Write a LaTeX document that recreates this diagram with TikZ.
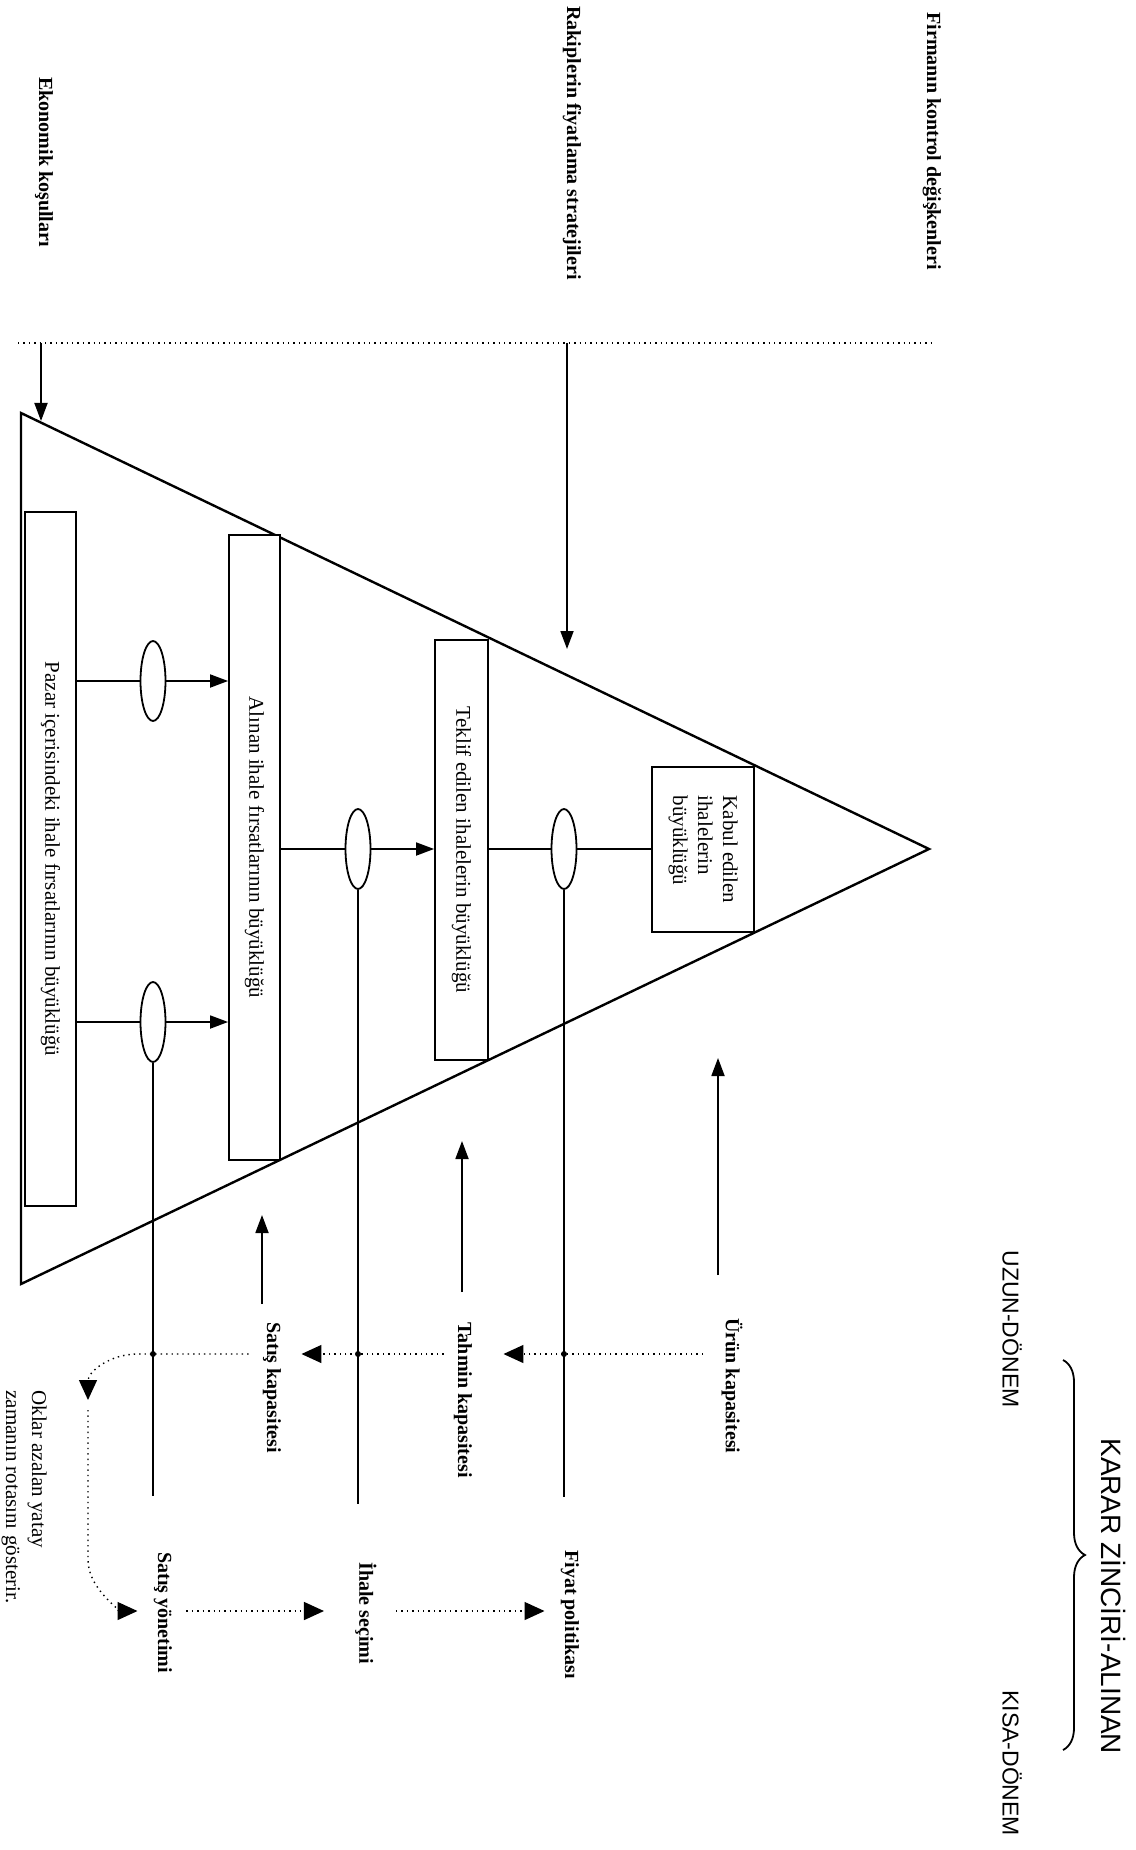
\documentclass[tikz,border=0pt]{standalone}
\usepackage{fontspec}
\usepackage{graphicx}
\setmainfont{Liberation Serif}
\newfontfamily\karsans{Liberation Sans}
\usetikzlibrary{arrows.meta,shapes.geometric,decorations.pathreplacing}
\begin{document}
\begin{tikzpicture}[x=0.5pt,y=-0.5pt,
    every node/.style={inner sep=0pt},
    kutu/.style={draw,line width=0.9pt,fill=white,font=\fontsize{10.5}{12.5}\selectfont},
    oval/.style={draw,ellipse,line width=0.9pt,fill=white,minimum width=12.5pt,minimum height=40pt},
    dikyazi/.style={rotate=-90,anchor=west,font=\bfseries\fontsize{10}{12}\selectfont},
    ok/.style={line width=0.9pt,-{Triangle[length=9pt,width=6.5pt]}},
    zaman/.style={dotted,line width=0.7pt,-{Triangle[length=10pt,width=9pt]}}]
    \useasboundingbox (0,0) rectangle (1135,1850);
    \node[dikyazi] (ekon) at (44,77) {Ekonomik koşulları};
    \node[dikyazi] (rakip) at (572,6) {Rakiplerin fiyatlama stratejileri};
    \node[dikyazi] (firma) at (932,12) {Firmanın kontrol değişkenleri};
    \coordinate (c1) at (18,343);
    \coordinate (c2) at (932,343);
    \draw[dotted,line width=0.7pt] (c1) -- (c2);
    \coordinate (tA) at (21,413);
    \coordinate (tB) at (21,1284);
    \coordinate (tC) at (929,849);
    \draw[line width=1.2pt] (tA) -- (tC) -- (tB) -- cycle;
    \coordinate (ekon-uc) at (41,421);
    \coordinate (rakip-uc) at (567,649);
    \draw[ok] (ekon-uc |- c1) -- (ekon-uc);
    \draw[ok] (rakip-uc |- c1) -- (rakip-uc);
    \node[kutu,minimum width=25.5pt,minimum height=347pt] (pazar) at (50.5,859)
        {\rotatebox{-90}{Pazar içerisindeki ihale fırsatlarının büyüklüğü}};
    \node[kutu,minimum width=25.5pt,minimum height=312.5pt] (alinan) at (254.5,847.5)
        {\rotatebox{-90}{Alınan ihale fırsatlarının büyüklüğü}};
    \node[kutu,minimum width=26.5pt,minimum height=210pt] (teklif) at (461.5,850)
        {\rotatebox{-90}{Teklif edilen ihalelerin büyüklüğü}};
    \node[kutu,minimum width=51pt,minimum height=82.5pt] (kabul) at (703,849.5)
        {\rotatebox{-90}{\begin{tabular}{@{}l@{}}Kabul edilen\\ihalelerin\\büyüklüğü\end{tabular}}};
    \node[oval] (o1) at (153,681) {};
    \node[oval] (o2) at (153,1022) {};
    \node[oval] (o3) at (358,849) {};
    \node[oval] (o4) at (564,849) {};
    \draw[line width=0.9pt] (pazar.east |- o1) -- (o1.west);
    \draw[ok] (o1.east) -- (alinan.west |- o1);
    \draw[line width=0.9pt] (pazar.east |- o2) -- (o2.west);
    \draw[ok] (o2.east) -- (alinan.west |- o2);
    \draw[line width=0.9pt] (alinan.east |- o3) -- (o3.west);
    \draw[ok] (o3.east) -- (teklif.west |- o3);
    \draw[line width=0.9pt] (teklif.east |- o4) -- (o4.west);
    \draw[line width=0.9pt] (o4.east) -- (kabul.west |- o4);
    \node[dikyazi] (urun) at (732,1318) {Ürün kapasitesi};
    \node[dikyazi] (tahmin) at (463,1322) {Tahmin kapasitesi};
    \node[dikyazi] (satisk) at (272,1322) {Satış kapasitesi};
    \node[dikyazi] (fiyat) at (570,1550) {Fiyat politikası};
    \node[dikyazi] (ihale) at (366,1562) {İhale seçimi};
    \node[dikyazi] (satisy) at (163,1552) {Satış yönetimi};
    \node[rotate=-90,anchor=north west,align=left,font=\fontsize{10.5}{13}\selectfont] (not) at (47,1390)
        {Oklar azalan yatay\\zamanın rotasını gösterir.};
    \draw[line width=0.9pt,shorten >=28pt] (o2.south) -- (o2.south |- satisy.west);
    \draw[line width=0.9pt,shorten >=29pt] (o3.south) -- (o3.south |- ihale.west);
    \draw[line width=0.9pt,shorten >=26.5pt] (o4.south) -- (o4.south |- fiyat.west);
    \coordinate (urun-uc) at (718,1058);
    \coordinate (tahmin-uc) at (462,1141);
    \coordinate (satisk-uc) at (262,1215);
    \draw[ok,shorten <=21.5pt] (urun-uc |- urun.west) -- (urun-uc);
    \draw[ok,shorten <=15pt] (tahmin-uc |- tahmin.west) -- (tahmin-uc);
    \draw[ok,shorten <=9pt] (satisk-uc |- satisk.west) -- (satisk-uc);
    \coordinate (sira1) at (0,1354);
    \coordinate (sira2) at (0,1611);
    \coordinate (kivrim) at (88,1400);
    \draw[zaman,shorten <=9pt,shorten >=15.5pt] (urun.south |- sira1) -- (tahmin.north |- sira1);
    \draw[zaman,shorten <=5pt,shorten >=10pt] (tahmin.south |- sira1) -- (satisk.north |- sira1);
    \draw[zaman,shorten <=7pt] (satisk.south |- sira1) -- ++(-125,0) .. controls +(-28,0) and +(0,-28) .. (kivrim);
    \draw[zaman,shorten >=8pt] ([yshift=-5pt]kivrim) -- ++(0,150) .. controls +(0,30) and +(-30,0) .. (satisy.south |- sira2);
    \draw[zaman,shorten <=7pt,shorten >=15.5pt] (satisy.north |- sira2) -- (ihale.south |- sira2);
    \draw[zaman,shorten <=9.5pt,shorten >=8pt] (ihale.north |- sira2) -- (fiyat.south |- sira2);
    \fill (o2.south |- sira1) circle (1.5pt);
    \fill (o3.south |- sira1) circle (1.5pt);
    \fill (o4.south |- sira1) circle (1.5pt);
    \coordinate (k1) at (1063,1360);
    \coordinate (k2) at (1063,1750);
    \draw[line width=0.9pt,decorate,decoration={brace,amplitude=11pt,aspect=0.5}] (k1) -- (k2);
    \node[rotate=-90,anchor=west,font=\karsans\fontsize{14}{16}\selectfont] (karar) at (1113,1438) {KARAR ZİNCİRİ-ALINAN};
    \node[rotate=-90,anchor=west,font=\karsans\fontsize{11.5}{14}\selectfont] (uzun) at (1012,1250) {UZUN-DÖNEM};
    \node[rotate=-90,anchor=west,font=\karsans\fontsize{11.5}{14}\selectfont] (kisa) at (1012,1690) {KISA-DÖNEM};
\end{tikzpicture}
\end{document}
